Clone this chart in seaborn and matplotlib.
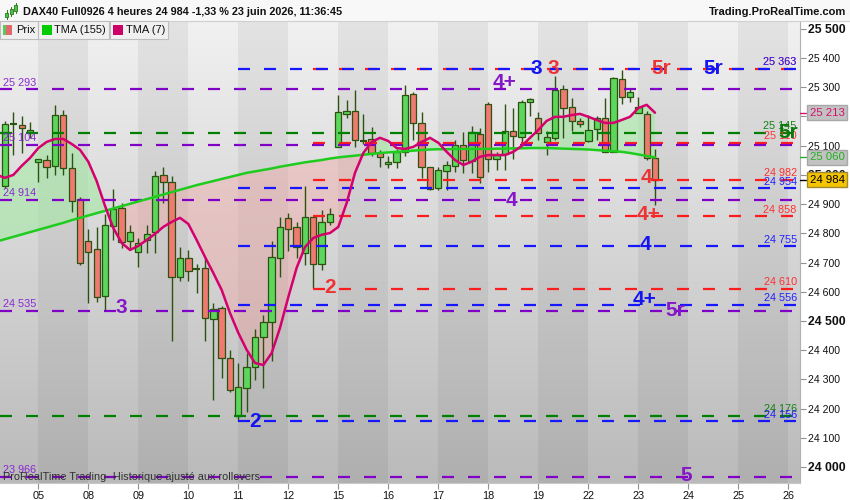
import matplotlib
matplotlib.use("Agg")
import matplotlib.pyplot as plt
import matplotlib.patches as mpatches
from matplotlib.colors import LinearSegmentedColormap
import numpy as np
import seaborn as sns

sns.set_style("white")
plt.rcParams["font.family"] = ["Liberation Sans", "DejaVu Sans"]

# ---- 4h candles, index 0 = last candles of 04 June ----
opens = [
    24963, 25175, 25171, 25147, 25043, 25051, 25032, 25205, 25023, 24918,
    24772, 24745, 24587, 24826, 24886, 24774, 24735, 24777, 24804, 25000,
    24977, 24652, 24715, 24677, 24680, 24506, 24543, 24372, 24176, 24270,
    24341, 24446, 24495, 24715, 24852, 24823, 24732, 24855, 24694, 24840,
    25097, 25208, 25220, 25117, 25122, 25074, 25037, 25043, 25080, 25276,
    25177, 25026, 24954, 25015, 25032, 25101, 25046, 25139, 25242, 25054,
    25071, 25151, 25131, 25248, 25196, 25114, 25126, 25293, 25231, 25185,
    25116, 25156, 25196, 25080, 25327, 25268, 25213, 25209, 25057]
highs = [
    25185, 25217, 25202, 25182, 25055, 25068, 25240, 25223, 25075, 24925,
    24814, 24822, 24866, 24951, 24903, 24829, 24783, 24829, 25014, 25026,
    24997, 24752, 24743, 24695, 24720, 24563, 24551, 24401, 24355, 24389,
    24473, 24521, 24775, 24855, 24869, 24840, 24962, 24856, 24880, 24888,
    25274, 25257, 25291, 25209, 25165, 25086, 25065, 25089, 25308, 25285,
    25217, 25028, 25028, 25046, 25120, 25148, 25168, 25160, 25248, 25080,
    25242, 25228, 25257, 25262, 25217, 25152, 25337, 25308, 25262, 25194,
    25205, 25202, 25262, 25335, 25360, 25297, 25268, 25220, 25088]
lows = [
    24955, 25068, 25076, 25127, 24977, 24990, 25000, 25000, 24874, 24692,
    24561, 24566, 24538, 24777, 24749, 24746, 24686, 24732, 24733, 24903,
    24432, 24635, 24635, 24595, 24432, 24229, 24306, 24255, 24158, 24189,
    24296, 24270, 24364, 24652, 24741, 24717, 24692, 24612, 24675, 24829,
    25096, 25194, 25095, 25106, 25065, 25028, 25023, 25025, 25065, 25120,
    24989, 24949, 24949, 24949, 25011, 25008, 25005, 24971, 25011, 25017,
    25017, 25054, 25103, 25200, 25120, 25068, 25120, 25126, 25151, 25165,
    25114, 25120, 25078, 25078, 25243, 25248, 25211, 25051, 24897]
closes = [
    25175, 25176, 25160, 25154, 25054, 25026, 25205, 25023, 24909, 24698,
    24737, 24583, 24829, 24884, 24770, 24804, 24766, 24797, 24997, 24975,
    24652, 24715, 24672, 24678, 24509, 24540, 24372, 24264, 24273, 24343,
    24446, 24495, 24718, 24823, 24815, 24754, 24855, 24694, 24840, 24865,
    25217, 25220, 25120, 25116, 25074, 25063, 25043, 25080, 25274, 25177,
    25028, 24951, 25017, 25034, 25101, 25051, 25148, 24994, 25054, 25068,
    25152, 25134, 25249, 25259, 25143, 25129, 25291, 25228, 25185, 25175,
    25154, 25194, 25080, 25331, 25268, 25283, 25232, 25057, 24984]

# moving averages, candle index -1 .. 78
ma_index = list(range(-1, 79))
tma7 = [
    25000, 24990, 25000, 25031, 25058, 25092, 25113, 25123, 25123, 25106,
    25086, 25045, 24979, 24894, 24818, 24767, 24743, 24757, 24777, 24798,
    24822, 24839, 24853, 24832, 24777, 24719, 24664, 24606, 24527, 24459,
    24401, 24356, 24349, 24390, 24476, 24582, 24682, 24753, 24784, 24795,
    24801, 24822, 24904, 25007, 25075, 25113, 25127, 25116, 25092, 25089,
    25096, 25113, 25127, 25110, 25079, 25051, 25034, 25045, 25062, 25068,
    25068, 25068, 25079, 25099, 25127, 25154, 25185, 25199, 25199, 25205,
    25209, 25199, 25188, 25178, 25178, 25188, 25199, 25229, 25240, 25213]
tma155 = [
    24772, 24780, 24788, 24796, 24804, 24812, 24820, 24828, 24836, 24845,
    24853, 24861, 24869, 24877, 24885, 24893, 24901, 24909, 24917, 24925,
    24933, 24941, 24949, 24957, 24965, 24972, 24979, 24986, 24993, 25000,
    25007, 25012, 25017, 25022, 25028, 25033, 25038, 25043, 25047, 25051,
    25056, 25060, 25063, 25066, 25069, 25072, 25075, 25077, 25079, 25081,
    25083, 25085, 25087, 25088, 25088, 25089, 25089, 25089, 25089, 25089,
    25090, 25090, 25091, 25091, 25092, 25092, 25092, 25091, 25090, 25089,
    25088, 25087, 25085, 25083, 25081, 25079, 25075, 25070, 25065, 25060]

day_labels = ["05", "08", "09", "10", "11", "12", "15", "16", "17", "18",
              "19", "22", "23", "24", "25", "26"]
day_index = [4, 10, 16, 22, 28, 34, 40, 46, 52, 58, 64, 70, 76, 82, 88, 94]

# horizontal levels
purple_levels = [25293, 25104, 24914, 24535, 23966]
green_levels = [25145, 24176]
red_levels = [25363, 25110, 24982, 24858, 24610]
red_labels = ["25 363", "25 110", "24 982", "24 858", "24 610"]
blue_levels = [25363, 24954, 24755, 24556, 24156]

# wave counts: text, colour key, candle index, price
wave_text = ["3", "2", "2", "4+", "3", "3", "5r", "5r", "4", "4",
             "4+", "4", "4+", "5r", "5r", "5"]
wave_col = ["p", "b", "r", "p", "b", "r", "r", "b", "p", "r",
            "r", "b", "b", "p", "g", "p"]
wave_x = [13.9, 30.0, 39.0, 60.0, 63.8, 65.8, 78.8, 85.0, 60.8, 77.0,
          77.2, 76.9, 76.8, 80.4, 94.0, 81.7]
wave_y = [24545, 24157, 24613, 25315, 25363, 25363, 25363, 25363, 24914, 24990,
          24866, 24760, 24572, 24534, 25144, 23969]

last_price = 24984

# ---- styling ----
PURPLE = "#8000c8"
BLUE = "#1616ff"
RED = "#ff1c1c"
DGREEN = "#008000"
text_col = {"p": "#8418c8", "b": "#1414f0", "r": "#ec3434", "g": "#0b780b"}
EDGE = "#2c5210"
W, H = 850, 500


def fy(py):
    return 1 - py / H


fig = plt.figure(figsize=(8.5, 5), dpi=100)
fig.patch.set_facecolor("white")
ax = fig.add_axes([0, fy(483), 800 / W, (483 - 21) / H])

xmin, xmax = -0.6, 95.4
ymin, ymax = 23945, 25527
ax.set_xlim(xmin, xmax)
ax.set_ylim(ymin, ymax)

# background gradient + alternating day bands
bg = LinearSegmentedColormap.from_list("bg", ["#f1f1f1", "#bababa"])
ax.imshow(np.linspace(0, 1, 256).reshape(-1, 1), extent=[xmin, xmax, ymin, ymax],
          aspect="auto", cmap=bg, origin="upper", zorder=0)
for k in range(0, 96, 12):
    ax.axvspan(4 + k, 10 + k, color="black", alpha=0.055, lw=0, zorder=0.5)

# fill between TMAs
t7 = np.array(tma7)
t155 = np.array(tma155)
ax.fill_between(ma_index, t7, t155, where=t7 >= t155, interpolate=True,
                color="#a6eaa6", alpha=0.6, lw=0, zorder=1)
ax.fill_between(ma_index, t7, t155, where=t7 < t155, interpolate=True,
                color="#f2a8a8", alpha=0.45, lw=0, zorder=1)

# candles
o = np.array(opens)
c = np.array(closes)
idx = np.arange(len(o))
up = c > o
doji = np.abs(c - o) < 3
ax.vlines(idx, lows, highs, color=EDGE, lw=1.0, zorder=3)
bottom = np.minimum(o, c)
height = np.abs(c - o)
m = up & ~doji
ax.bar(idx[m], height[m], bottom=bottom[m], width=0.76, color="#5cd65c",
       edgecolor=EDGE, lw=0.9, zorder=3.2)
m = ~up & ~doji
ax.bar(idx[m], height[m], bottom=bottom[m], width=0.76, color="#ee7a72",
       edgecolor=EDGE, lw=0.9, zorder=3.2)
ax.hlines(c[doji], idx[doji] - 0.4, idx[doji] + 0.4, color=EDGE, lw=1.5, zorder=3.2)

# dashed levels
LW = 1.6
DASH = (12 * 0.72 / LW, 14 * 0.72 / LW)


def level(p, start, color):
    ax.plot([start, xmax], [p, p], color=color, lw=LW, dashes=DASH,
            solid_capstyle="butt", dash_capstyle="butt", zorder=3.5)


for p in red_levels:
    level(p, 36.96, RED)
for p in purple_levels:
    level(p, xmin, PURPLE)
for p in green_levels:
    level(p, xmin, DGREEN)
for p in blue_levels:
    level(p, 27.96, BLUE)

ytr = ax.get_yaxis_transform()
for p in purple_levels:
    ax.annotate(f"{p:,}".replace(",", " "), (0.004, p), xycoords=ytr,
                xytext=(0, 1.2), textcoords="offset points", fontsize=7.8,
                color="#8a2ad0", va="bottom", ha="left", zorder=6)
for p, t in zip(red_levels, red_labels):
    ax.annotate(t, (0.996, p), xycoords=ytr, xytext=(0, 1.2), textcoords="offset points",
                fontsize=7.8, color="#ff3030", va="bottom", ha="right", zorder=6)
for p in green_levels:
    ax.annotate(f"{p:,}".replace(",", " "), (0.996, p), xycoords=ytr, xytext=(0, 1.2),
                textcoords="offset points", fontsize=7.8, color="#128012",
                va="bottom", ha="right", zorder=6)
for p in blue_levels:
    ax.annotate(f"{p:,}".replace(",", " "), (0.996, p), xycoords=ytr, xytext=(0, 1.2),
                textcoords="offset points", fontsize=7.8, color="#2020ff",
                va="bottom", ha="right", zorder=6)

# moving averages
sns.lineplot(x=ma_index, y=tma155, ax=ax, color="#1ecc1e", lw=1.8, zorder=4)
sns.lineplot(x=ma_index, y=tma7, ax=ax, color="#d4006e", lw=1.8, zorder=4.2)
ax.set_xlabel("")
ax.set_ylabel("")

# wave count labels
for t, ck, xi, yi in zip(wave_text, wave_col, wave_x, wave_y):
    ax.text(xi, yi, t, color=text_col[ck], fontsize=15, fontweight="bold",
            ha="center", va="center", zorder=7)

ax.text(0.004, 23950, "ProRealTime Trading- Historique ajusté aux rollovers",
        transform=ytr, fontsize=7.8, color="#303030", va="bottom", ha="left", zorder=7)

# axes look
for s in ["top", "left"]:
    ax.spines[s].set_visible(False)
ax.spines["right"].set_color("#b0b0b0")
ax.spines["bottom"].set_color("#c8c8c8")
ax.yaxis.tick_right()
yt = list(range(24000, 25501, 100))
ax.set_yticks(yt)
ax.set_yticklabels([f"{v:,}".replace(",", " ") for v in yt])
for lab, v in zip(ax.get_yticklabels(), yt):
    if v % 500 == 0:
        lab.set_fontweight("bold")
        lab.set_fontsize(8.8)
    else:
        lab.set_fontsize(7.6)
ax.tick_params(axis="y", direction="out", length=4, width=0.8, color="#909090",
               pad=2, labelcolor="#111111", right=True, left=False)
ax.set_xticks(day_index)
ax.set_xticklabels(day_labels)
ax.tick_params(axis="x", direction="out", length=4, width=0.8, color="#909090",
               pad=2, labelsize=7.8, labelcolor="#111111", bottom=True)
ax.grid(False)

# right price boxes
boxes = [(tma7[-1], "#d4106c", "#c2c2c2", "#a8a8a8"),
         (tma155[-1], "#20b020", "#c2c2c2", "#a8a8a8"),
         (last_price, "#000000", "#f5c400", "#a08a30")]
for p, tc, fc, ec in boxes:
    ax.plot([1.0, 1.008], [p, p], transform=ytr, color=tc, lw=1, clip_on=False, zorder=8)
    ax.text(1.012, p, f"{int(p):,}".replace(",", " "), transform=ytr, color=tc,
            fontsize=8.2, va="center", ha="left", zorder=9, clip_on=False,
            bbox=dict(boxstyle="square,pad=0.22", fc=fc, ec=ec, lw=1))

# header bar
fig.add_artist(mpatches.Rectangle((0, fy(21)), 1, 21 / H, transform=fig.transFigure,
                                  fc="#f8f8f8", ec="none", zorder=10))
fig.add_artist(plt.Line2D([0, 1], [fy(21), fy(21)], transform=fig.transFigure,
                          color="#d0d0d0", lw=0.8, zorder=10))
for x0, y0, h0, y1, y2 in [(5, 13, 4, 10, 19), (9.5, 9, 5, 7, 16), (14, 5, 6, 3, 13)]:
    fig.add_artist(plt.Line2D([(x0 + 1.5) / W] * 2, [fy(y1), fy(y2)],
                              transform=fig.transFigure, color="#2a7a1a", lw=0.8, zorder=11))
    fig.add_artist(mpatches.Rectangle((x0 / W, fy(y0 + h0)), 3 / W, h0 / H,
                                      transform=fig.transFigure, fc="#4cc44c",
                                      ec="#2a7a1a", lw=0.6, zorder=12))
fig.text(23 / W, fy(12), "DAX40 Full0926 4 heures 24 984 -1,33 % 23 juin 2026, 11:36:45",
         fontsize=7.85, fontweight="bold", color="#111111", va="center", ha="left", zorder=12)
fig.text(846 / W, fy(12), "Trading.ProRealTime.com", fontsize=8, fontweight="bold",
         color="#111111", va="center", ha="right", zorder=12)

# legend row
legend_items = [("Prix", 0, 37.5), ("TMA (155)", 37.5, 109.5), ("TMA (7)", 109.5, 168)]
swatch = {"Prix": None, "TMA (155)": "#00cc00", "TMA (7)": "#cc0066"}
for name, x0, x1 in legend_items:
    fig.add_artist(mpatches.Rectangle((x0 / W, fy(39)), (x1 - x0) / W, 18 / H,
                                      transform=fig.transFigure, fc="#f0f0f0",
                                      ec="#bdbdbd", lw=0.8, zorder=10))
    if swatch[name] is None:
        fig.add_artist(mpatches.Rectangle(((x0 + 2.5) / W, fy(35)), 3.5 / W, 10 / H,
                                          transform=fig.transFigure, fc="#5cc85c",
                                          ec="none", zorder=11))
        fig.add_artist(mpatches.Rectangle(((x0 + 6) / W, fy(35)), 6 / W, 10 / H,
                                          transform=fig.transFigure, fc="#e06a6a",
                                          ec="none", zorder=11))
    else:
        fig.add_artist(mpatches.Rectangle(((x0 + 4) / W, fy(35)), 10 / W, 10 / H,
                                          transform=fig.transFigure, fc=swatch[name],
                                          ec="none", zorder=11))
    fig.text((x0 + 16) / W, fy(30), name, fontsize=8, color="#111111",
             va="center", ha="left", zorder=12)

fig.savefig("out.png", dpi=100)
